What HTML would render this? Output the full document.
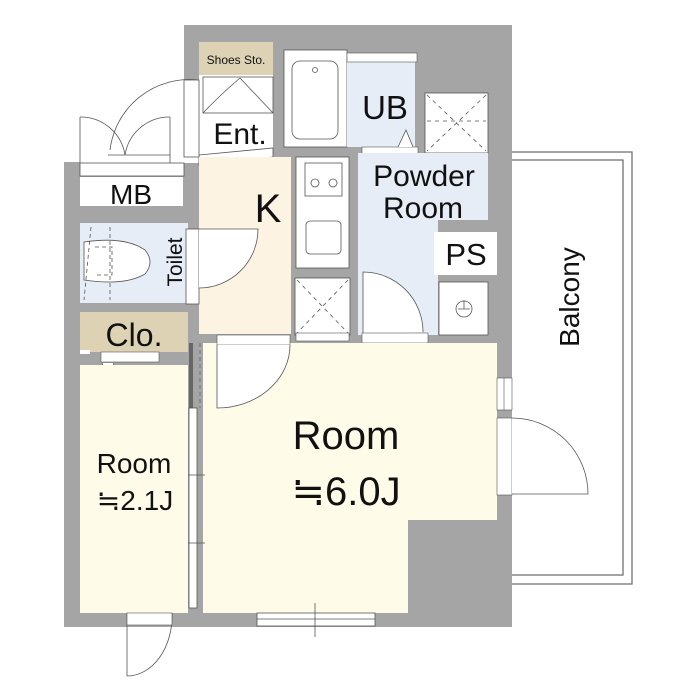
<!DOCTYPE html>
<html><head><meta charset="utf-8"><style>
html,body{margin:0;padding:0;background:#fff}
svg{display:block}
text{font-family:"Liberation Sans","DejaVu Sans",sans-serif;fill:#111}
</style></head><body>
<svg width="700" height="700" viewBox="0 0 700 700" xmlns="http://www.w3.org/2000/svg">
<!-- balcony -->
<rect x="500" y="152" width="132" height="432" fill="#fff" stroke="#666" stroke-width="1.2"/>
<rect x="500" y="160" width="123" height="415" fill="#fff" stroke="#666" stroke-width="1.2"/>
<!-- walls -->
<rect x="184" y="25" width="328" height="602" fill="#a5a5a5"/>
<rect x="64" y="162" width="140" height="465" fill="#a5a5a5"/>
<!-- entrance area white -->
<rect x="80" y="80" width="120" height="83" fill="#fff"/>
<rect x="199" y="75" width="74" height="82" fill="#fff"/>
<polygon points="199,155 273,148 273,157 199,165" fill="#fff" stroke="#555" stroke-width="0.8"/>
<!-- shoes storage -->
<rect x="199" y="42" width="74" height="33" fill="#ddd3b4"/>
<rect x="203" y="77" width="70" height="36" fill="#fff" stroke="#555" stroke-width="0.8"/>
<path d="M203,113 Q220,95 240,78 M273,113 Q256,95 240,78" fill="none" stroke="#555" stroke-width="0.8"/>
<!-- entry doors -->
<path d="M80,163 L80,117 M80,117 A45,45 0 0 1 125,155 M170,117 L170,163 M170,117 A45,45 0 0 0 125,155 M108,155 L170,155" fill="none" stroke="#555" stroke-width="0.8"/>
<path d="M198,80 A80,80 0 0 0 110,150" fill="none" stroke="#555" stroke-width="0.8"/>
<rect x="184" y="80" width="15" height="77" fill="#fff" stroke="#555" stroke-width="0.8"/>
<rect x="80" y="163" width="104" height="13" fill="#fff" stroke="#555" stroke-width="0.8"/>
<!-- MB -->
<rect x="80" y="177" width="103" height="29" fill="#fff"/>
<!-- Toilet -->
<rect x="80" y="223" width="108" height="80" fill="#e7edf6"/>
<path d="M84,242 Q125,236 145,250 Q155,262 145,274 Q125,286 84,280 Z" fill="#fff" stroke="#555" stroke-width="0.8"/>
<path d="M95,247 L112,247 L112,275 L95,275 M91,227 L84,300 M110,227 L110,300" fill="none" stroke="#555" stroke-width="0.8" stroke-dasharray="4,3"/>
<!-- Clo -->
<rect x="80" y="312" width="108" height="40" fill="#ddd3b4"/>
<rect x="80" y="350" width="10" height="4" fill="#fff"/>
<rect x="101" y="352" width="58" height="10" fill="#fff" stroke="#555" stroke-width="0.6"/>
<path d="M102,363 L108,381 L114,363" fill="#fff" stroke="#555" stroke-width="0.8"/>
<!-- K -->
<rect x="199" y="157" width="92" height="177" fill="#fdf3e2"/>
<rect x="186" y="229" width="13" height="75" fill="#fff" stroke="#555" stroke-width="0.8"/>
<path d="M199,229 L258,229 A59,59 0 0 1 199,288" fill="#fff" stroke="#555" stroke-width="0.8"/>
<rect x="296" y="157" width="53" height="111" fill="#fff" stroke="#555" stroke-width="0.8"/>
<rect x="305" y="163" width="37" height="33" fill="#fff" stroke="#555" stroke-width="0.8"/>
<circle cx="315" cy="183" r="4" fill="none" stroke="#555" stroke-width="0.8"/>
<circle cx="333" cy="183" r="4" fill="none" stroke="#555" stroke-width="0.8"/>
<rect x="306" y="221" width="35" height="33" rx="4" fill="#fff" stroke="#555" stroke-width="0.8"/>
<rect x="295" y="278" width="55" height="57" fill="#fff" stroke="#555" stroke-width="0.8"/>
<path d="M297,280 L348,333 M348,280 L297,333" stroke="#555" stroke-width="0.8" stroke-dasharray="4,4"/>
<!-- UB -->
<rect x="284" y="50" width="63" height="97" fill="#fff" stroke="#555" stroke-width="0.8"/>
<rect x="292" y="61" width="46" height="78" rx="8" fill="#fff" stroke="#555" stroke-width="0.8"/>
<circle cx="315" cy="70" r="2.5" fill="none" stroke="#555" stroke-width="0.8"/>
<rect x="347" y="55" width="68" height="92" fill="#e7edf6"/>
<rect x="347" y="53" width="70" height="9" fill="#fff" stroke="#555" stroke-width="0.6"/>
<rect x="362" y="147" width="56" height="8" fill="#fff" stroke="#555" stroke-width="0.6"/>
<path d="M398,147 L406,130 L413,147" fill="#fff" stroke="#555" stroke-width="0.8"/>
<!-- washer -->
<rect x="425" y="93" width="63" height="60" fill="#fff" stroke="#555" stroke-width="0.8"/>
<path d="M427,95 L486,151 M486,95 L427,151 M427,121 L486,121" stroke="#555" stroke-width="0.8" stroke-dasharray="4,4"/>
<!-- Powder room -->
<rect x="358" y="153" width="130" height="67" fill="#e7edf6"/>
<rect x="358" y="220" width="80" height="115" fill="#e7edf6"/>
<rect x="434" y="232" width="63" height="43" fill="#fff"/>
<rect x="439" y="282" width="49" height="53" fill="#fff" stroke="#555" stroke-width="0.8"/>
<circle cx="464" cy="309" r="8" fill="none" stroke="#555" stroke-width="0.8"/>
<path d="M458,309 L470,309 M464,309 L464,300" stroke="#555" stroke-width="0.8"/>
<path d="M363,335 L363,272 A60,60 0 0 1 423,332" fill="#fff" stroke="#555" stroke-width="0.8"/>
<rect x="362" y="333" width="66" height="10" fill="#fff" stroke="#555" stroke-width="0.6"/>
<rect x="296" y="333" width="53" height="8" fill="#fff" stroke="#555" stroke-width="0.6"/>
<!-- Room 6.0J -->
<rect x="203" y="343" width="294" height="177" fill="#fefce9"/>
<rect x="203" y="519" width="205" height="94" fill="#fefce9"/>
<rect x="217" y="335" width="73" height="10" fill="#fff" stroke="#555" stroke-width="0.6"/>
<path d="M217,345 L217,408 A73,63 0 0 0 290,345" fill="#fff" stroke="#555" stroke-width="0.8"/>
<!-- sliding partition -->
<rect x="189" y="343" width="4" height="65" fill="#666"/>
<path d="M200,343 L200,408" stroke="#666" stroke-width="0.8" stroke-dasharray="4,3"/>
<rect x="189" y="408" width="8" height="200" fill="#fff" stroke="#555" stroke-width="0.8"/>
<path d="M184,475 L205,475 M184,543 L205,543" stroke="#555" stroke-width="0.8"/>
<!-- Room 2.1J -->
<rect x="80" y="365" width="108" height="248" fill="#fefce9"/>
<path d="M127,613 L127,676 M172,613 A45,60 0 0 1 127,676" fill="none" stroke="#555" stroke-width="0.8"/>
<rect x="127" y="613" width="45" height="12" fill="#fff" stroke="#555" stroke-width="0.6"/>
<!-- bottom window -->
<rect x="257" y="613" width="118" height="13" fill="#fff" stroke="#555" stroke-width="0.8"/>
<path d="M257,619 L375,619 M315,603 L315,637" stroke="#555" stroke-width="0.8"/>
<!-- right door to balcony -->
<rect x="497" y="378" width="15" height="32" fill="#fff" stroke="#555" stroke-width="0.6"/>
<path d="M504,378 L504,410" stroke="#555" stroke-width="0.6"/>
<rect x="497" y="418" width="15" height="77" fill="#fff" stroke="#555" stroke-width="0.6"/>
<path d="M512,418 A76,76 0 0 1 588,494 L512,494" fill="#fff" stroke="#555" stroke-width="0.8"/>
<!-- labels -->
<text x="236" y="64" font-size="12" text-anchor="middle">Shoes Sto.</text>
<text x="240" y="144" font-size="30" text-anchor="middle">Ent.</text>
<text x="131" y="204" font-size="28" text-anchor="middle">MB</text>
<text x="268" y="222" font-size="40" text-anchor="middle">K</text>
<text x="385" y="119" font-size="33" text-anchor="middle">UB</text>
<text x="424" y="186" font-size="30" text-anchor="middle">Powder</text>
<text x="423" y="218" font-size="30" text-anchor="middle">Room</text>
<text x="466" y="265" font-size="31" text-anchor="middle">PS</text>
<text x="134" y="346" font-size="32" text-anchor="middle">Clo.</text>
<text transform="translate(182,262) rotate(-90)" font-size="21" text-anchor="middle">Toilet</text>
<text transform="translate(579,297) rotate(-90)" font-size="28" text-anchor="middle">Balcony</text>
<text x="346" y="449" font-size="40" text-anchor="middle">Room</text>
<text x="346" y="505" font-size="40" text-anchor="middle">≒6.0J</text>
<text x="134" y="473" font-size="28" text-anchor="middle">Room</text>
<text x="135" y="510" font-size="28" text-anchor="middle">≒2.1J</text>
</svg>
</body></html>
